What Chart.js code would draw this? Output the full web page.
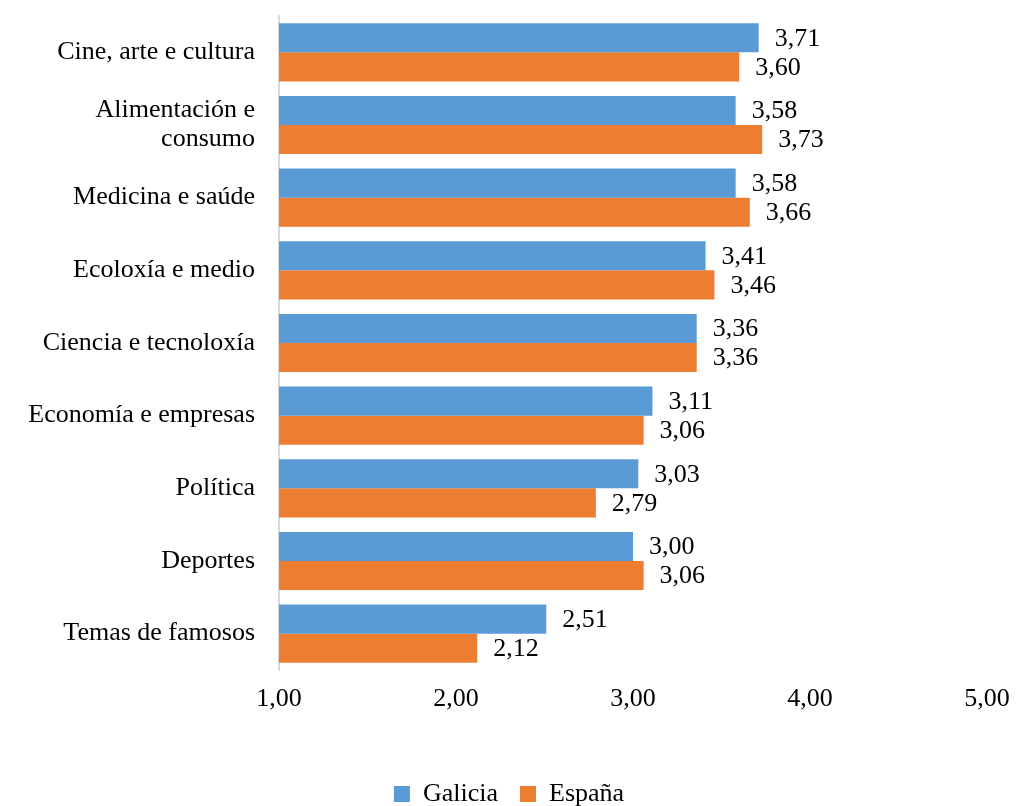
<!DOCTYPE html>
<html>
<head>
<meta charset="utf-8">
<script src="https://cdn.jsdelivr.net/npm/chart.js@4/dist/chart.umd.min.js"></script>
<style>
  html, body { margin: 0; padding: 0; background: #fff; }
  #wrap { width: 1018px; height: 806px; }
</style>
</head>
<body>
<div id="wrap"><canvas id="bars"></canvas></div>
<script>
var categories = [
    "Cine, arte e cultura",
    ["Alimentación e", "consumo"],
    "Medicina e saúde",
    "Ecoloxía e medio",
    "Ciencia e tecnoloxía",
    "Economía e empresas",
    "Política",
    "Deportes",
    "Temas de famosos"
];
var galicia = [3.71, 3.58, 3.58, 3.41, 3.36, 3.11, 3.03, 3.00, 2.51];
var espana = [3.60, 3.73, 3.66, 3.46, 3.36, 3.06, 2.79, 3.06, 2.12];
var xTicks = [1, 2, 3, 4, 5];

var fontFam = "'Liberation Serif', 'DejaVu Serif', serif";

function fmt(v) { return v.toFixed(2).replace(".", ","); }

// value labels to the right of each bar
var barLabels = {
    id: "barLabels",
    afterDatasetsDraw: function (chart) {
        var ctx = chart.ctx;
        ctx.save();
        ctx.font = "26px " + fontFam;
        ctx.fillStyle = "#000";
        ctx.textAlign = "left";
        ctx.textBaseline = "middle";
        chart.data.datasets.forEach(function (ds, i) {
            chart.getDatasetMeta(i).data.forEach(function (bar, j) {
                ctx.fillText(fmt(ds.data[j]), bar.x + 16, bar.y + 1);
            });
        });
        ctx.restore();
    }
};

new Chart(document.getElementById("bars"), {
    type: "bar",
    data: {
        labels: categories,
        datasets: [{
            label: "Galicia",
            data: galicia,
            backgroundColor: "#5B9BD5",
            categoryPercentage: 0.8,
            barPercentage: 1.0
        }, {
            label: "España",
            data: espana,
            backgroundColor: "#ED7D31",
            categoryPercentage: 0.8,
            barPercentage: 1.0
        }]
    },
    options: {
        indexAxis: "y",
        responsive: true,
        maintainAspectRatio: false,
        animation: false,
        layout: { padding: { top: 16, right: 0, left: 0, bottom: -11 } },
        scales: {
            x: {
                min: 1,
                max: 5,
                afterBuildTicks: function (scale) {
                    scale.ticks = xTicks.map(function (v) { return { value: v }; });
                },
                afterFit: function (scale) {
                    scale.height = 89;
                    scale.paddingLeft = 0;
                    scale.paddingRight = 31;
                },
                grid: { display: false, drawTicks: false },
                border: { display: false },
                ticks: {
                    padding: 14,
                    color: "#000",
                    font: { family: fontFam, size: 26 },
                    callback: function (v) { return fmt(v); }
                }
            },
            y: {
                afterFit: function (scale) {
                    scale.width = 279;
                    scale.paddingTop = 0;
                    scale.paddingBottom = 0;
                },
                grid: { display: false, drawTicks: false },
                border: { display: true, color: "#d9d9d9", width: 2 },
                ticks: {
                    padding: 24,
                    color: "#000",
                    font: { family: fontFam, size: 26, lineHeight: 1.12 }
                }
            }
        },
        plugins: {
            legend: {
                position: "bottom",
                labels: {
                    boxWidth: 16,
                    boxHeight: 16,
                    padding: 22,
                    color: "#000",
                    font: { family: fontFam, size: 26 }
                }
            },
            tooltip: { enabled: false }
        }
    },
    plugins: [barLabels]
});
</script>
</body>
</html>
